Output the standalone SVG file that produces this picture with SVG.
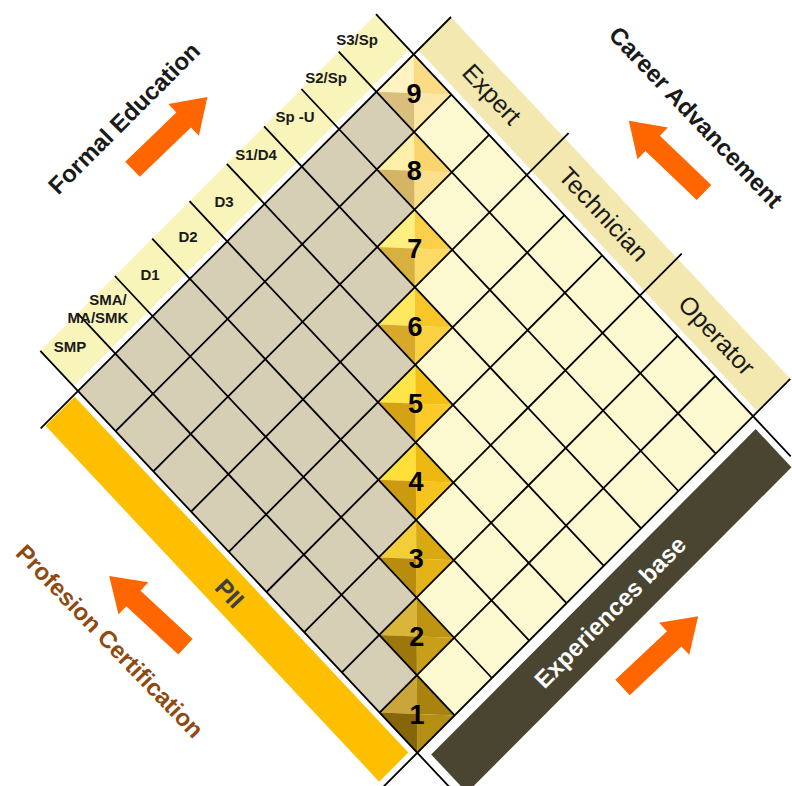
<svg xmlns="http://www.w3.org/2000/svg" width="792" height="786" viewBox="0 0 792 786">
<defs>
<style>
.ln{stroke:#000;stroke-width:1.8;fill:none;vector-effect:non-scaling-stroke}
.f{font-family:"Liberation Sans",Arial,sans-serif}
.edu{font-weight:bold;font-size:15px;fill:#1a1a1a;text-anchor:middle}
.car{font-size:25px;fill:#1a1a1a;text-anchor:middle}
.ttl{font-weight:bold;font-size:24px;text-anchor:middle}
.num{font-weight:bold;font-size:27px;fill:#000;text-anchor:middle}
.arr{fill:#FF6600}
</style>
<path id="arrow" d="M0,-10.5H71V-22L104,0L71,22V10.5H0Z"/>
</defs>
<rect width="792" height="786" fill="#fff"/>

<g id="board" transform="matrix(37.7 40.2 37.3 -37.4 78 391)">
  <g id="experience-zone"><polygon points="0,0 9,0 9,9 0,9" fill="#FCF8CF"/></g>
  <g id="education-zone"><polygon points="0,0 0,8 1,8 1,7 2,7 2,6 3,6 3,5 4,5 4,4 5,4 5,3 6,3 6,2 7,2 7,1 8,1 8,0" fill="#D6CFB6"/></g>
  <g id="education-band"><polygon points="-1,0 -0.12,0 -0.12,9 -1,9" fill="#F9F5BA"/></g>
  <g id="career-band"><polygon points="0,9.12 9,9.12 9,10 0,10" fill="#F2E8B0"/></g>
  <g id="pii-bar"><polygon points="0.03,-0.12 8.88,-0.12 8.88,-0.9 0.03,-0.9" fill="#FDBF00"/></g>
  <g id="experience-bar"><polygon points="9.2,0.17 10.15,0.17 10.15,8.87 9.2,8.87" fill="#4A4530"/></g>
  <g id="levels">
    <g id="level-9"><polygon points="0,8 0,9 .5,8.5" fill="#FFF3C4"/><polygon points="0,9 1,9 .5,8.5" fill="#FCDB85"/><polygon points="1,9 1,8 .5,8.5" fill="#FDE7A6"/><polygon points="1,8 0,8 .5,8.5" fill="#D9BE7E"/></g>
    <g id="level-8"><polygon points="1,7 1,8 1.5,7.5" fill="#FFEFA8"/><polygon points="1,8 2,8 1.5,7.5" fill="#FAD56E"/><polygon points="2,8 2,7 1.5,7.5" fill="#FBDF8A"/><polygon points="2,7 1,7 1.5,7.5" fill="#D4B565"/></g>
    <g id="level-7"><polygon points="2,6 2,7 2.5,6.5" fill="#FFEE80"/><polygon points="2,7 3,7 2.5,6.5" fill="#FBD048"/><polygon points="3,7 3,6 2.5,6.5" fill="#FDDA66"/><polygon points="3,6 2,6 2.5,6.5" fill="#D8B03E"/></g>
    <g id="level-6"><polygon points="3,5 3,6 3.5,5.5" fill="#FFE860"/><polygon points="3,6 4,6 3.5,5.5" fill="#F8C62A"/><polygon points="4,6 4,5 3.5,5.5" fill="#FCD243"/><polygon points="4,5 3,5 3.5,5.5" fill="#D8A928"/></g>
    <g id="level-5"><polygon points="4,4 4,5 4.5,4.5" fill="#FFE54A"/><polygon points="4,5 5,5 4.5,4.5" fill="#F5C015"/><polygon points="5,5 5,4 4.5,4.5" fill="#FCCB2A"/><polygon points="5,4 4,4 4.5,4.5" fill="#D6A215"/></g>
    <g id="level-4"><polygon points="5,3 5,4 5.5,3.5" fill="#FFDF3A"/><polygon points="5,4 6,4 5.5,3.5" fill="#EDB80F"/><polygon points="6,4 6,3 5.5,3.5" fill="#F6C41C"/><polygon points="6,3 5,3 5.5,3.5" fill="#CC9A10"/></g>
    <g id="level-3"><polygon points="6,2 6,3 6.5,2.5" fill="#F2CF38"/><polygon points="6,3 7,3 6.5,2.5" fill="#D9A912"/><polygon points="7,3 7,2 6.5,2.5" fill="#E4B318"/><polygon points="7,2 6,2 6.5,2.5" fill="#B88C0C"/></g>
    <g id="level-2"><polygon points="7,1 7,2 7.5,1.5" fill="#D9B53A"/><polygon points="7,2 8,2 7.5,1.5" fill="#BE9312"/><polygon points="8,2 8,1 7.5,1.5" fill="#C99E18"/><polygon points="8,1 7,1 7.5,1.5" fill="#9C780C"/></g>
    <g id="level-1"><polygon points="8,0 8,1 8.5,0.5" fill="#C9A53A"/><polygon points="8,1 9,1 8.5,0.5" fill="#A8830F"/><polygon points="9,1 9,0 8.5,0.5" fill="#B58E16"/><polygon points="9,0 8,0 8.5,0.5" fill="#866609"/></g>
  </g>
  <g id="grid">
    <path class="ln" d="M0,-1L0,10M9,-1L9,10M1,0L1,9M2,0L2,9M3,0L3,10.12M4,0L4,9M5,0L5,9M6,0L6,10.12M7,0L7,9M8,0L8,9"/>
    <path class="ln" d="M-1,0L10,0M-1,9L10,9M-1,1L9,1M-1,2L9,2M-1,3L9,3M-1,4L9,4M-1,5L9,5M-1,6L9,6M-1,7L9,7M-1,8L9,8"/>
  </g>
</g>

<g id="level-numbers" class="f">
  <text class="num" x="413.9" y="102.7">9</text>
  <text class="num" x="414.3" y="180.3">8</text>
  <text class="num" x="414.7" y="257.9">7</text>
  <text class="num" x="415.1" y="335.5">6</text>
  <text class="num" x="415.5" y="413.1">5</text>
  <text class="num" x="415.9" y="490.7">4</text>
  <text class="num" x="416.3" y="568.3">3</text>
  <text class="num" x="416.7" y="645.9">2</text>
  <text class="num" x="417.1" y="723.5">1</text>
</g>

<g id="education-labels" class="f">
  <text class="edu" x="70" y="352">SMP</text>
  <text class="edu" x="108" y="305">SMA/</text>
  <text class="edu" x="98" y="323">MA/SMK</text>
  <text class="edu" x="150" y="280">D1</text>
  <text class="edu" x="188" y="242">D2</text>
  <text class="edu" x="224" y="207">D3</text>
  <text class="edu" x="256" y="160">S1/D4</text>
  <text class="edu" x="295" y="122">Sp -U</text>
  <text class="edu" x="326" y="83">S2/Sp</text>
  <text class="edu" x="357" y="45">S3/Sp</text>
</g>

<g id="career-labels" class="f">
  <text class="car" transform="translate(492,94) rotate(46.8)" y="9">Expert</text>
  <text class="car" transform="translate(604,214) rotate(46.8)" y="9">Technician</text>
  <text class="car" transform="translate(717,335) rotate(46.8)" y="9">Operator</text>
</g>

<g id="bar-labels" class="f">
  <text class="ttl" font-size="26" fill="#3F3F3F" transform="translate(230,593) rotate(46.8)" y="9">PII</text>
  <text class="ttl" fill="#fff" transform="translate(610,612) rotate(-45.1)" y="8.5">Experiences base</text>
</g>

<g id="titles" class="f">
  <text class="ttl" fill="#1a1a1a" transform="translate(124,118) rotate(-45)" y="8.5">Formal Education</text>
  <text class="ttl" fill="#1a1a1a" transform="translate(696,117) rotate(46.5)" y="8.5">Career Advancement</text>
  <text class="ttl" fill="#8F4A12" transform="translate(110,641) rotate(46)" y="8.5">Profesion Certification</text>
</g>

<g id="arrows">
  <use href="#arrow" class="arr" transform="translate(132.5,169.2) rotate(-43.9)"/>
  <use href="#arrow" class="arr" transform="translate(704,192.5) rotate(-136.3)"/>
  <use href="#arrow" class="arr" transform="translate(185.5,646.7) rotate(-137.2)"/>
  <use href="#arrow" class="arr" transform="translate(622.5,687.5) rotate(-43.3)"/>
</g>
</svg>
